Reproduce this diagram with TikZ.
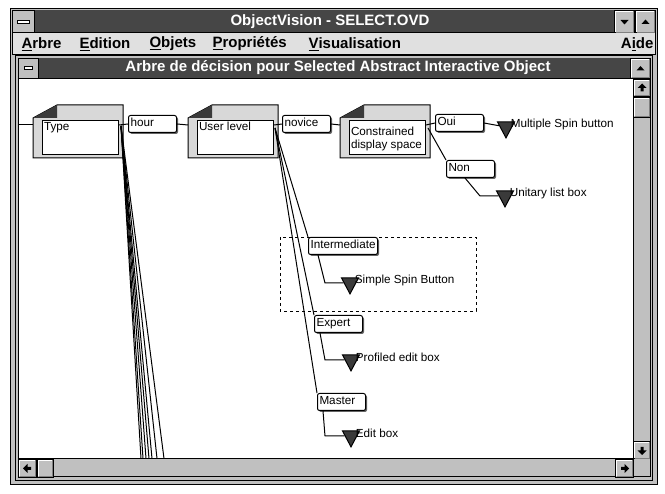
\documentclass[tikz,border=0pt]{standalone}
\usepackage{fontspec}
\setmainfont{Liberation Sans}
\usetikzlibrary{arrows.meta,positioning,calc,shapes.geometric,shadows}

\definecolor{wingray}{RGB}{192,192,192}
\definecolor{bardark}{RGB}{70,70,70}
\definecolor{menugray}{RGB}{224,224,224}
\definecolor{panelgray}{RGB}{216,216,216}
\definecolor{leafgray}{RGB}{58,58,58}
\definecolor{shadowgray}{RGB}{100,100,100}

\tikzset{
  btn/.style={draw, fill=wingray, anchor=north west, inner sep=0pt},
  sysbtn/.style={
    draw, fill=wingray, anchor=north west, inner sep=0pt,
    path picture={
      \draw[fill=white] ($(path picture bounding box.center)+(-#1,-1.5)$)
        rectangle ($(path picture bounding box.center)+(#1,1.5)$);}
  },
  glyph/.style={fill=black, draw=none},
  titletext/.style={text=white, inner sep=0pt, font=\bfseries\fontsize{15}{15}\selectfont},
  menuitem/.style={anchor=west, inner sep=0pt, font=\bfseries\fontsize{15}{15}\selectfont},
  decision/.style={
    draw, fill=white, anchor=north west, inner sep=0pt,
    minimum width=76pt, minimum height=34pt
  },
  decitext/.style={anchor=north west, inner sep=1.5pt, align=left},
  cond/.style={
    draw, fill=white, rounded corners=2pt, anchor=west,
    drop shadow={shadow xshift=1.5pt, shadow yshift=-1.5pt, fill=shadowgray, opacity=1},
    inner xsep=2pt, inner ysep=0pt, text width=44pt, align=left,
    minimum height=17pt, text height=8.5pt, text depth=2.5pt
  },
  leaf/.style={
    isosceles triangle, isosceles triangle stretches, shape border rotate=-90,
    fill=leafgray, draw=black, inner sep=0pt, minimum width=17pt, minimum height=16pt
  },
  leaftext/.style={anchor=west, inner sep=0pt, xshift=-2pt, yshift=3pt},
}

\begin{document}
\begin{tikzpicture}[x=1pt, y=-1pt, line width=1pt, font=\fontsize{11.7}{13.5}\selectfont]
  \useasboundingbox (0,0) rectangle (665,494);
  \fill[white] (0,0) rectangle (665,494);

  % application window
  \draw[fill=wingray] (10,9) rectangle (657,485);
  \fill[bardark] (12,10) rectangle (655,33);
  \node[sysbtn=6, minimum width=22pt, minimum height=23pt] (appMenu) at (12,10) {};
  \node[btn, minimum width=20pt, minimum height=23pt] (appMin) at (614,10) {};
  \node[btn, minimum width=20pt, minimum height=23pt] (appMax) at (635,10) {};
  \node[titletext] (appTitle) at (330,21.5) {ObjectVision - SELECT.OVD};

  % menu bar
  \draw[fill=menugray] (12,33) rectangle (655,55);
  \node[menuitem] (mArbre) at (21,44) {\underline{A}rbre};
  \node[menuitem] (mEdition) at (79,44) {\underline{E}dition};
  \node[menuitem] (mObjets) at (149,44) {\underline{O}bjets};
  \node[menuitem] (mProp) at (212,44) {\underline{P}ropriétés};
  \node[menuitem] (mVisu) at (308,44) {\underline{V}isualisation};
  \node[menuitem, anchor=east] (mAide) at (654,44) {A\underline{i}de};

  % document window
  \draw[fill=wingray] (15,56) rectangle (652,481);
  \fill[bardark] (18,58) rectangle (650,78);
  \node[sysbtn=4, minimum width=20pt, minimum height=20pt] (docMenu) at (18,58) {};
  \node[btn, minimum width=20pt, minimum height=20pt] (docMax) at (630,58) {};
  \node[titletext] (docTitle) at (338,68) {Arbre de décision pour Selected Abstract Interactive Object};
  \draw[fill=white] (18,79) rectangle (633,459);

  % scroll bars
  \draw[fill=wingray] (633,79) rectangle (650,459);
  \node[btn, minimum width=17pt, minimum height=17pt] (vUp) at (633,79) {};
  \node[btn, minimum width=17pt, minimum height=20pt] (vThumb) at (633,97) {};
  \node[btn, minimum width=17pt, minimum height=18pt] (vDown) at (633,441) {};
  \draw[fill=wingray] (18,459) rectangle (633,477);
  \node[btn, minimum width=18pt, minimum height=18pt] (hLeft) at (18,459) {};
  \node[btn, minimum width=16pt, minimum height=18pt] (hThumb) at (37,459) {};
  \node[btn, minimum width=18pt, minimum height=18pt] (hRight) at (615,459) {};
  \draw[fill=wingray] (633,459) rectangle (650,477);

  % button bevels and glyphs
  \foreach \b in {appMin,appMax,docMax,vUp,vThumb,vDown,hLeft,hThumb,hRight} {
    \draw[white, line width=1.5pt] ($(\b.south west)+(1.5,-1.5)$) -- ($(\b.north west)+(1.5,1.5)$)
      -- ($(\b.north east)+(-1.5,1.5)$);
    \draw[gray, line width=1.5pt] ($(\b.north east)+(-1.5,1.5)$) -- ($(\b.south east)+(-1.5,-1.5)$)
      -- ($(\b.south west)+(1.5,-1.5)$);
  }
  \fill[glyph] (appMin.center) ++(0,2.5) -- ++(4,-4.5) -- ++(-8,0) -- cycle;
  \foreach \b in {appMax,docMax}
    \fill[glyph] (\b.center) ++(0,-2.5) -- ++(4,4.5) -- ++(-8,0) -- cycle;
  \fill[glyph] (vUp.center) ++(0,-4.5) -- ++(4.5,4.5) -- ++(-3,0) -- ++(0,3.5)
    -- ++(-3,0) -- ++(0,-3.5) -- ++(-3,0) -- cycle;
  \fill[glyph] (vDown.center) ++(0,4.5) -- ++(4.5,-4.5) -- ++(-3,0) -- ++(0,-3.5)
    -- ++(-3,0) -- ++(0,3.5) -- ++(-3,0) -- cycle;
  \fill[glyph] (hLeft.center) ++(-4.5,0) -- ++(4.5,-4.5) -- ++(0,3) -- ++(3.5,0)
    -- ++(0,3) -- ++(-3.5,0) -- ++(0,3) -- cycle;
  \fill[glyph] (hRight.center) ++(4.5,0) -- ++(-4.5,-4.5) -- ++(0,3) -- ++(-3.5,0)
    -- ++(0,3) -- ++(3.5,0) -- ++(0,3) -- cycle;

  % decision nodes
  \foreach \n/\x/\t/\d in {type/42/Type/0, user/197/User level/0, space/349/Constrained\\display space/-5} {
    \draw[fill=panelgray] (\x-9,118) -- (\x+15,105) -- (\x+81,105) -- (\x+81,158) -- (\x-9,158) -- cycle;
    \fill[leafgray] (\x-9,118) -- (\x+15,105) -- (\x+15,118) -- cycle;
    \node[decision, label={[decitext, yshift=\d pt]north west:\t}] (\n) at (\x,120) {};
  }

  % conditions
  \node[cond] (hour) at (128,124) {hour};
  \node[cond] (novice) at (282,124) {novice};
  \node[cond] (oui) at (435,123) {Oui};
  \node[cond] (non) at (446,169) {Non};
  \node[cond, text width=65pt] (inter) at (308,246) {Intermediate};
  \node[cond] (expert) at (314,324) {Expert};
  \node[cond] (master) at (317,402) {Master};

  % objects
  \node[leaf, label={[leaftext]east:Multiple Spin button}] (m1) at (506,127) {};
  \node[leaf, label={[leaftext]east:Unitary list box}] (u1) at (505,196) {};
  \node[leaf, label={[leaftext]east:Simple Spin Button}] (s1) at (350,283) {};
  \node[leaf, label={[leaftext]east:Profiled edit box}] (p1) at (351,360) {};
  \node[leaf, label={[leaftext]east:Edit box}] (e1) at (351,436) {};

  % links
  \coordinate (rootIn) at (18,125);
  \draw (rootIn) -- ($(type.north west)+(-9,5)$);
  \draw ($(type.north east)+(0,5)$) -- (hour.west);
  \draw (hour.east) -- ($(user.north west)+(-9,5)$);
  \draw ($(user.north east)+(0,5)$) -- (novice.west);
  \draw (novice.east) -- ($(space.north west)+(-9,5)$);
  \draw ($(space.north east)+(0,5)$) -- (oui.west);
  \draw (oui.east) -- (m1);
  \draw ($(space.north east)+(2,8)$) -- (non.north west);
  \draw ($(non.south west)+(19,0)$) -- ([xshift=-25pt]u1.center) -- (u1);
  \foreach \n in {inter,expert,master}
    \draw ($(user.north east)+(1,8)$) -- (\n.north west);
  \draw ($(inter.south west)+(10,0)$) -- ([xshift=-25pt]s1.center) -- (s1);
  \draw ($(expert.south west)+(6,0)$) -- ([xshift=-26pt]p1.center) -- (p1);
  \draw ($(master.south west)+(6,0)$) -- ([xshift=-26pt]e1.center) -- (e1);
  \foreach \x [count=\i] in {141,143,146,149,152,157,164} {
    \coordinate (down\i) at (\x,458.5);
    \draw ($(type.north east)+(2,6)$) -- (down\i);
  }

  % selection
  \draw[line width=0.8pt, dash pattern=on 3pt off 3pt] (280,237) rectangle (476,311);
\end{tikzpicture}
\end{document}
